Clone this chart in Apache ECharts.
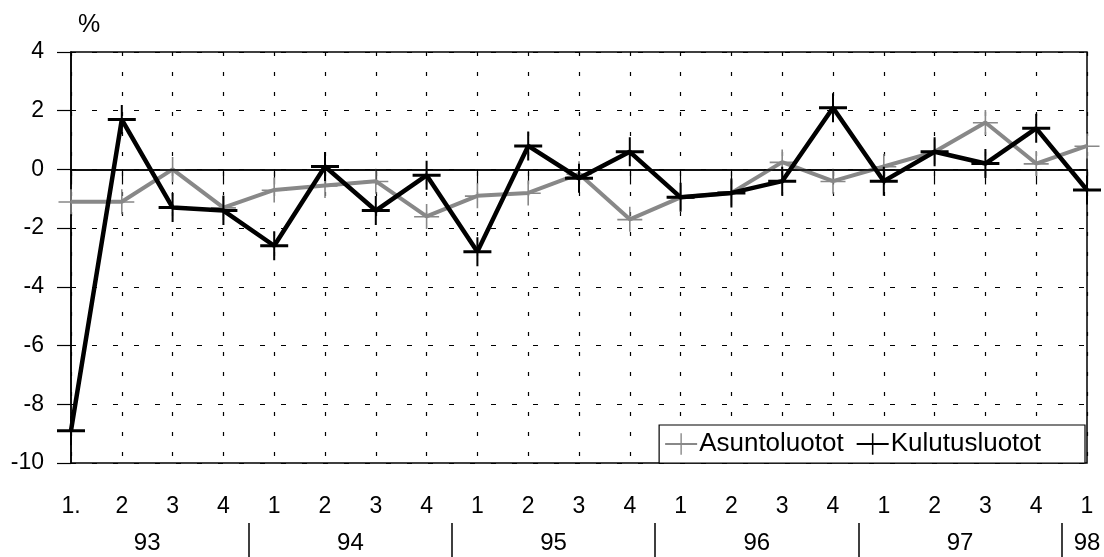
<!DOCTYPE html>
<html>
<head>
<meta charset="utf-8">
<script src="https://cdn.jsdelivr.net/npm/echarts@6/dist/echarts.min.js"></script>
<style>
html,body{margin:0;padding:0;background:#fff;}
#c{width:1104px;height:557px;}
</style>
</head>
<body>
<div id="c"></div>
<script>
const quarters = ['1.','2','3','4','1','2','3','4','1','2','3','4','1','2','3','4','1','2','3','4','1'];
const years = ['93','94','95','96','97','98'];
const yTicks = [-10,-8,-6,-4,-2,0,2,4];
const asuntoluotot = [-1.1,-1.1,0.0,-1.3,-0.7,-0.55,-0.4,-1.6,-0.9,-0.8,-0.15,-1.7,-0.95,-0.8,0.25,-0.4,0.1,0.6,1.6,0.2,0.8];
const kulutusluotot = [-8.9,1.7,-1.3,-1.4,-2.6,0.1,-1.4,-0.2,-2.8,0.8,-0.3,0.6,-0.95,-0.8,-0.4,2.1,-0.4,0.6,0.2,1.4,-0.7];

const last = quarters.length - 1;
const yearPos = years.map((y,i)=>(4*i + Math.min(4*i+3,last))/2);
const yearSep = years.slice(1).map((y,i)=>4*(i+1)-0.5);
const yearMap = {};
yearPos.forEach((p,i)=>{yearMap[p]=years[i];});

const font = 'Liberation Sans, Arial, sans-serif';
const chart = echarts.init(document.getElementById('c'));
chart.setOption({
  animation:false,
  backgroundColor:'#fff',
  title:{text:'%',left:73,top:8,textStyle:{fontFamily:font,fontSize:25,fontWeight:'normal',color:'#000'}},
  grid:{left:71,right:17,top:52,bottom:94,show:true,borderColor:'#000',borderWidth:1.5,backgroundColor:'transparent'},
  legend:{
    right:19,bottom:94,
    data:['Asuntoluotot','Kulutusluotot'],
    backgroundColor:'#fff',borderColor:'#000',borderWidth:1.2,
    padding:[6,44,6,5],itemGap:12,itemWidth:32,itemHeight:27,
    textStyle:{fontFamily:font,fontSize:26,color:'#000',padding:[0,0,0,-3]}
  },
  xAxis:[{
    type:'category',data:quarters,boundaryGap:false,
    axisLine:{show:true,lineStyle:{color:'#000',width:1.5}},
    axisTick:{show:true,interval:0,length:15,lineStyle:{color:'#000',width:1.2}},
    axisLabel:{interval:0,margin:32,fontFamily:font,fontSize:23,color:'#000'},
    splitLine:{show:true,interval:0,lineStyle:{color:'#000',width:1.2,type:[4,16]}}
  },{
    type:'value',min:0,max:last,position:'bottom',offset:60,
    axisLine:{show:false},
    splitLine:{show:false},
    axisTick:{show:true,customValues:yearSep,length:34,lineStyle:{color:'#000',width:1.5}},
    axisLabel:{customValues:yearPos,formatter:v=>yearMap[v]||'',margin:8,fontFamily:font,fontSize:24,color:'#000'}
  }],
  yAxis:{
    type:'value',min:-10,max:4,interval:2,
    axisLine:{show:true,lineStyle:{color:'#000',width:1.5}},
    axisTick:{show:true,length:14,lineStyle:{color:'#000',width:1.2}},
    axisLabel:{margin:27,fontFamily:font,fontSize:23,color:'#000'},
    splitLine:{show:true,lineStyle:{color:'#000',width:1.2,type:[5,16]}}
  },
  series:[{
    name:'Asuntoluotot',type:'line',data:asuntoluotot,xAxisIndex:0,
    lineStyle:{color:'#888',width:4},itemStyle:{color:'#888'},
    symbol:'path://M0,12h25v1.6h-25z M11.7,0h1.6v25h-1.6z',symbolSize:[25,25],
    markLine:{silent:true,symbol:'none',label:{show:false},lineStyle:{color:'#000',width:1.5,type:'solid'},data:[{yAxis:0}]},
    z:2
  },{
    name:'Kulutusluotot',type:'line',data:kulutusluotot,xAxisIndex:0,
    lineStyle:{color:'#000',width:4.5},itemStyle:{color:'#000'},
    symbol:'path://M0,13h28v3h-28z M13,0h2v29h-2z',symbolSize:[28,29],
    z:3
  }]
});
</script>
</body>
</html>
